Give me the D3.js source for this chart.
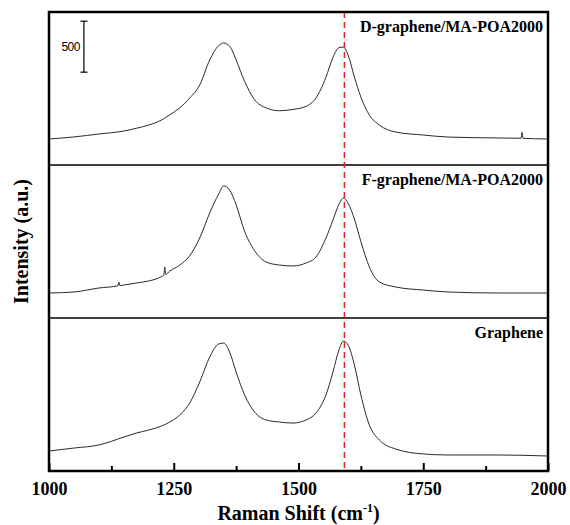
<!DOCTYPE html>
<html>
<head>
<meta charset="utf-8">
<script src="https://cdn.jsdelivr.net/npm/d3@7"></script>
<style>
  body { margin: 0; background: #fff; }
  svg { display: block; }
  .tick text { font-family: "Liberation Serif", "Times New Roman", serif; font-weight: bold; font-size: 18px; fill: #000; }
</style>
</head>
<body>
<svg width="570" height="525"></svg>
<script>
const svg = d3.select("svg");
const width = +svg.attr("width");
const height = +svg.attr("height");

// raman shift grid (cm-1) shared by the three spectra
const shift = [1000, 1050, 1100, 1150, 1175, 1200, 1225, 1242, 1262, 1282, 1302, 1322, 1340, 1350, 1362, 1375, 1392, 1412,
  1435, 1462, 1489, 1515, 1535, 1555, 1569, 1581, 1590, 1600, 1612, 1625, 1642, 1662, 1695, 1750, 1800, 1900, 2000];

// intensities (counts), top to bottom panel
const dGraphene = [255, 275, 304, 333, 360, 392, 440, 492, 560, 657, 784, 1029, 1170, 1196, 1165, 1030, 820, 640,
  560, 532, 545, 575, 657, 860, 1055, 1150, 1156, 1070, 862, 666, 490, 392, 323, 294, 274, 265, 255];
const fGraphene = [245, 255, 294, 323, 343, 363, 405, 460, 519, 610, 784, 1029, 1215, 1295, 1254, 1110, 850, 660,
  549, 519, 510, 539, 598, 784, 960, 1115, 1176, 1120, 970, 750, 500, 353, 304, 274, 255, 245, 245];
const graphene = [196, 225, 255, 333, 372, 402, 440, 480, 549, 666, 872, 1117, 1245, 1254, 1166, 970, 745, 578,
  500, 480, 470, 500, 568, 745, 970, 1186, 1274, 1230, 1039, 745, 451, 304, 215, 167, 157, 157, 147];

// narrow spikes [shift, counts]
const dSpikes = [[1946, 262], [1948, 320], [1950, 262]];
const fSpikes = [[1138, 316], [1140, 350], [1142, 318], [1230, 420], [1232, 500], [1234, 428]];
const gSpikes = [];

const labels = ["D-graphene/MA-POA2000", "F-graphene/MA-POA2000", "Graphene"];
const majorTicks = [1000, 1250, 1500, 1750, 2000];
const minorTicks = [1125, 1375, 1625, 1875];
const gPeak = 1592;          // red dashed reference line
const scaleBar = [910, 1410]; // 500 counts
const scaleBarShift = 1070;

const margin = { top: 12, right: 22, bottom: 54, left: 49 };
const innerWidth = width - margin.left - margin.right;
const innerHeight = height - margin.top - margin.bottom;
const panelH = innerHeight / 3;

const xScale = d3.scaleLinear().domain([1000, 2000]).range([0, innerWidth]);
const yScale = d3.scaleLinear().domain([0, 1500]).range([panelH, 0]);

const g = svg.append("g").attr("transform", `translate(${margin.left},${margin.top})`);

const series = [dGraphene, fGraphene, graphene];
const spikes = [dSpikes, fSpikes, gSpikes];

const line = d3.line()
  .x((d) => xScale(d[0]))
  .y((d) => yScale(d[1]))
  .curve(d3.curveMonotoneX);

series.forEach((vals, i) => {
  const pts = shift.map((s, j) => [s, vals[j]]).concat(spikes[i]).sort((a, b) => a[0] - b[0]);
  const pg = g.append("g").attr("transform", `translate(0,${i * panelH})`);
  pg.append("path")
    .datum(pts)
    .attr("d", line)
    .attr("fill", "none")
    .attr("stroke", "#2a2a2a")
    .attr("stroke-width", 1);
  pg.append("text")
    .text(labels[i])
    .attr("x", innerWidth - 5)
    .attr("y", 20)
    .attr("text-anchor", "end")
    .attr("font-family", "Liberation Serif, Times New Roman, serif")
    .attr("font-weight", "bold")
    .attr("font-size", 16);
  if (i > 0) {
    g.append("line")
      .attr("x1", 0).attr("x2", innerWidth)
      .attr("y1", i * panelH).attr("y2", i * panelH)
      .attr("stroke", "#000").attr("stroke-width", 1.5);
  }
});

// scale bar
const sb = g.append("g");
const sx = xScale(scaleBarShift);
sb.append("line").attr("x1", sx).attr("x2", sx).attr("y1", yScale(scaleBar[0])).attr("y2", yScale(scaleBar[1]));
scaleBar.forEach((v) => {
  sb.append("line").attr("x1", sx - 3.5).attr("x2", sx + 3.5).attr("y1", yScale(v)).attr("y2", yScale(v));
});
sb.selectAll("line").attr("stroke", "#000").attr("stroke-width", 1.2);
sb.append("text")
  .text(scaleBar[1] - scaleBar[0])
  .attr("x", sx - 4)
  .attr("y", yScale((scaleBar[0] + scaleBar[1]) / 2))
  .attr("dy", "0.35em")
  .attr("text-anchor", "end")
  .attr("font-family", "Liberation Sans, Arial, sans-serif")
  .attr("font-size", 12)
  .attr("letter-spacing", "-0.5");

// red dashed line
g.append("line")
  .attr("x1", xScale(gPeak)).attr("x2", xScale(gPeak))
  .attr("y1", 0).attr("y2", innerHeight)
  .attr("stroke", "#e8202a")
  .attr("stroke-width", 1.5)
  .attr("stroke-dasharray", "6,4");

// x axis, ticks pointing inward
const xAxis = d3.axisBottom(xScale).tickValues(majorTicks).tickSize(-8).tickPadding(11).tickFormat(d3.format("d"));
const xAxisG = g.append("g").attr("transform", `translate(0,${innerHeight})`).call(xAxis);
xAxisG.select(".domain").remove();
xAxisG.selectAll(".tick line").attr("stroke", "#000").attr("stroke-width", 2);
const minorG = g.append("g").attr("transform", `translate(0,${innerHeight})`)
  .call(d3.axisBottom(xScale).tickValues(minorTicks).tickSize(-5).tickFormat(""));
minorG.select(".domain").remove();
minorG.selectAll(".tick line").attr("stroke", "#000").attr("stroke-width", 2);

// frame
g.append("rect")
  .attr("width", innerWidth).attr("height", innerHeight)
  .attr("fill", "none").attr("stroke", "#000").attr("stroke-width", 2.5);

// axis titles
const xt = svg.append("text")
  .attr("x", margin.left + innerWidth / 2)
  .attr("y", 520)
  .attr("text-anchor", "middle")
  .attr("font-family", "Liberation Serif, Times New Roman, serif")
  .attr("font-weight", "bold")
  .attr("font-size", 20);
xt.append("tspan").text("Raman Shift (cm");
xt.append("tspan").text("-1").attr("font-size", 12).attr("dy", -8);
xt.append("tspan").text(")").attr("dy", 8);

svg.append("text")
  .text("Intensity (a.u.)")
  .attr("transform", "rotate(-90)")
  .attr("x", -(margin.top + innerHeight / 2))
  .attr("y", 28)
  .attr("text-anchor", "middle")
  .attr("font-family", "Liberation Serif, Times New Roman, serif")
  .attr("font-weight", "bold")
  .attr("font-size", 20);
</script>
</body>
</html>
